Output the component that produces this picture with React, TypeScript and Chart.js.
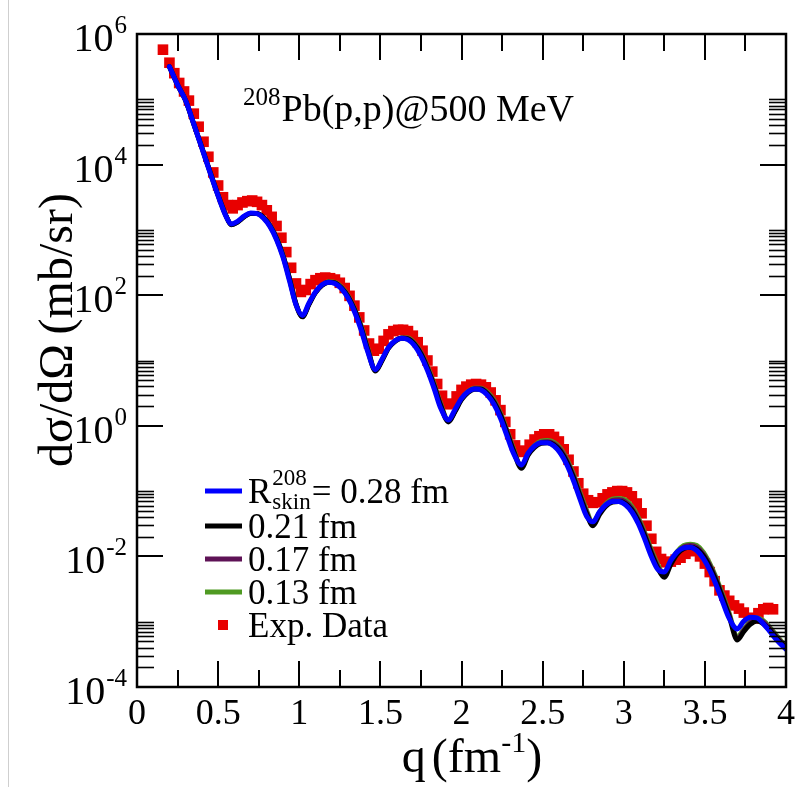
import React, { useEffect, useRef } from "react";
import { Chart, registerables } from "chart.js";

Chart.register(...registerables);

const SERIF = '"Liberation Serif", "Times New Roman", serif';

// ---- axis ticks ----
const xMajorTicks = [0, 0.5, 1, 1.5, 2, 2.5, 3, 3.5, 4];
const xTickLabels = ["0", "0.5", "1", "1.5", "2", "2.5", "3", "3.5", "4"];
const xMinorTicks = [0.25, 0.75, 1.25, 1.75, 2.25, 2.75, 3.25, 3.75];
const yMajorExponents = [-4, -2, 0, 2, 4, 6];
const yMinorDecades = [-4, -2, 0, 2, 4];
const yMinorMantissas = [2, 3, 4, 5, 6, 7, 8, 9, 10];

// ---- theory curves: q (fm^-1) and log10(dσ/dΩ) ----
const qTheory = [
  0.20, 0.25, 0.30, 0.35, 0.40, 0.45, 0.50, 0.55, 0.58, 0.62,
  0.66, 0.70, 0.74, 0.78, 0.82, 0.86, 0.90, 0.94, 0.98, 1.02,
  1.06, 1.10, 1.14, 1.18, 1.22, 1.26, 1.30, 1.34, 1.38, 1.42,
  1.47, 1.51, 1.55, 1.59, 1.63, 1.67, 1.71, 1.75, 1.79, 1.83,
  1.87, 1.92, 1.96, 2.00, 2.04, 2.08, 2.12, 2.16, 2.20, 2.24,
  2.28, 2.32, 2.37, 2.41, 2.45, 2.49, 2.53, 2.57, 2.61, 2.65,
  2.69, 2.73, 2.77, 2.81, 2.85, 2.89, 2.93, 2.97, 3.01, 3.05,
  3.09, 3.13, 3.17, 3.21, 3.25, 3.29, 3.33, 3.37, 3.41, 3.45,
  3.49, 3.53, 3.57, 3.61, 3.65, 3.70, 3.74, 3.78, 3.82, 3.86,
  3.90, 3.95, 4.00,
];

const skin028Log = [
  5.50, 5.22, 4.98, 4.62, 4.25, 3.88, 3.52, 3.20, 3.09, 3.13,
  3.21, 3.26, 3.25, 3.18, 3.05, 2.85, 2.58, 2.22, 1.85, 1.69,
  1.88, 2.05, 2.16, 2.20, 2.18, 2.10, 1.96, 1.75, 1.48, 1.15,
  0.86, 1.02, 1.20, 1.30, 1.34, 1.32, 1.23, 1.07, 0.85, 0.58,
  0.28, 0.09, 0.25, 0.42, 0.52, 0.565, 0.55, 0.47, 0.33, 0.12,
  -0.15, -0.42, -0.60, -0.42, -0.31, -0.26, -0.26, -0.31, -0.42, -0.60,
  -0.84, -1.12, -1.38, -1.47, -1.32, -1.21, -1.16, -1.16, -1.21, -1.32,
  -1.50, -1.74, -2.00, -2.20, -2.24, -2.06, -1.93, -1.87, -1.86, -1.91,
  -2.03, -2.21, -2.44, -2.70, -2.95, -3.11, -2.99, -2.93, -2.94, -3.03,
  -3.15, -3.30, -3.42,
];

const skin021Log = [
  5.50, 5.22, 4.98, 4.62, 4.26, 3.89, 3.53, 3.21, 3.08, 3.12,
  3.20, 3.25, 3.25, 3.19, 3.06, 2.87, 2.60, 2.25, 1.86, 1.67,
  1.86, 2.04, 2.15, 2.20, 2.19, 2.11, 1.98, 1.78, 1.51, 1.18,
  0.84, 1.00, 1.19, 1.29, 1.34, 1.33, 1.25, 1.10, 0.88, 0.62,
  0.32, 0.06, 0.22, 0.40, 0.51, 0.56, 0.56, 0.49, 0.36, 0.16,
  -0.10, -0.38, -0.65, -0.45, -0.33, -0.27, -0.26, -0.29, -0.39, -0.56,
  -0.79, -1.07, -1.34, -1.53, -1.36, -1.23, -1.17, -1.16, -1.19, -1.29,
  -1.46, -1.69, -1.95, -2.18, -2.32, -2.12, -1.96, -1.88, -1.86, -1.89,
  -1.99, -2.16, -2.38, -2.64, -2.92, -3.28, -3.15, -3.04, -2.99, -3.03,
  -3.13, -3.27, -3.40,
];

const skin017Log = [
  5.50, 5.22, 4.98, 4.62, 4.26, 3.89, 3.53, 3.21, 3.08, 3.12,
  3.20, 3.25, 3.25, 3.19, 3.07, 2.88, 2.61, 2.26, 1.87, 1.67,
  1.86, 2.04, 2.15, 2.20, 2.19, 2.12, 1.99, 1.79, 1.53, 1.20,
  0.85, 1.00, 1.19, 1.30, 1.35, 1.34, 1.26, 1.12, 0.90, 0.64,
  0.34, 0.07, 0.22, 0.41, 0.52, 0.57, 0.57, 0.50, 0.38, 0.18,
  -0.08, -0.36, -0.63, -0.44, -0.31, -0.25, -0.24, -0.27, -0.36, -0.53,
  -0.76, -1.04, -1.31, -1.51, -1.34, -1.21, -1.14, -1.13, -1.16, -1.26,
  -1.43, -1.66, -1.92, -2.15, -2.30, -2.10, -1.94, -1.85, -1.83, -1.86,
  -1.96, -2.13, -2.35, -2.61, -2.89, -3.25, -3.13, -3.01, -2.96, -3.00,
  -3.10, -3.25, -3.39,
];

const skin013Log = [
  5.50, 5.22, 4.98, 4.62, 4.26, 3.89, 3.53, 3.21, 3.08, 3.12,
  3.20, 3.25, 3.25, 3.19, 3.07, 2.89, 2.62, 2.27, 1.88, 1.67,
  1.86, 2.04, 2.15, 2.21, 2.20, 2.13, 2.00, 1.80, 1.55, 1.22,
  0.86, 1.00, 1.19, 1.30, 1.35, 1.35, 1.27, 1.13, 0.92, 0.66,
  0.36, 0.08, 0.22, 0.41, 0.53, 0.58, 0.58, 0.52, 0.40, 0.20,
  -0.06, -0.34, -0.62, -0.43, -0.30, -0.23, -0.22, -0.25, -0.34, -0.51,
  -0.73, -1.01, -1.28, -1.49, -1.32, -1.19, -1.12, -1.11, -1.13, -1.23,
  -1.40, -1.63, -1.89, -2.12, -2.28, -2.08, -1.92, -1.83, -1.81, -1.83,
  -1.93, -2.10, -2.32, -2.58, -2.86, -3.22, -3.11, -2.99, -2.94, -2.98,
  -3.08, -3.23, -3.38,
];

// ---- experimental data: [q, log10(dσ/dΩ)] ----
const expPoints: [number, number][] = [
  [0.16, 5.76], [0.20, 5.56], [0.23, 5.40], [0.26, 5.25], [0.29, 5.12],
  [0.32, 4.98], [0.35, 4.78], [0.38, 4.58], [0.41, 4.35], [0.44, 4.12],
  [0.47, 3.88], [0.50, 3.68], [0.53, 3.50], [0.56, 3.38], [0.59, 3.33],
  [0.62, 3.38], [0.65, 3.42], [0.68, 3.44], [0.71, 3.45], [0.74, 3.43],
  [0.77, 3.38], [0.80, 3.30], [0.83, 3.20], [0.86, 3.06], [0.89, 2.88],
  [0.92, 2.66], [0.95, 2.42], [0.98, 2.18], [1.01, 2.05], [1.04, 2.08],
  [1.07, 2.17], [1.10, 2.23], [1.13, 2.26], [1.16, 2.27], [1.19, 2.26],
  [1.22, 2.24], [1.25, 2.19], [1.28, 2.11], [1.31, 1.99], [1.34, 1.84],
  [1.37, 1.66], [1.40, 1.46], [1.43, 1.26], [1.46, 1.15], [1.49, 1.18],
  [1.52, 1.30], [1.55, 1.40], [1.58, 1.45], [1.61, 1.47], [1.64, 1.47],
  [1.67, 1.45], [1.70, 1.38], [1.73, 1.28], [1.76, 1.15], [1.79, 1.00],
  [1.82, 0.83], [1.85, 0.64], [1.88, 0.46], [1.91, 0.33], [1.94, 0.34],
  [1.97, 0.45], [2.00, 0.55], [2.03, 0.60], [2.06, 0.63], [2.09, 0.64],
  [2.12, 0.63], [2.15, 0.59], [2.18, 0.51], [2.21, 0.39], [2.24, 0.24],
  [2.27, 0.06], [2.30, -0.13], [2.33, -0.30], [2.36, -0.40], [2.39, -0.38],
  [2.42, -0.29], [2.45, -0.21], [2.48, -0.16], [2.51, -0.13], [2.54, -0.13],
  [2.57, -0.17], [2.60, -0.24], [2.63, -0.36], [2.66, -0.52], [2.69, -0.70],
  [2.72, -0.88], [2.75, -1.04], [2.78, -1.14], [2.81, -1.18], [2.84, -1.17],
  [2.87, -1.11], [2.90, -1.05], [2.93, -1.02], [2.96, -1.00], [2.99, -1.00],
  [3.02, -1.02], [3.05, -1.08], [3.08, -1.19], [3.11, -1.34], [3.14, -1.53],
  [3.17, -1.73], [3.20, -1.93], [3.23, -2.04], [3.26, -2.09], [3.29, -2.08],
  [3.32, -2.05], [3.35, -2.02], [3.38, -1.96], [3.41, -1.91], [3.44, -1.92],
  [3.47, -2.00], [3.50, -2.11], [3.53, -2.24], [3.56, -2.38], [3.59, -2.52],
  [3.62, -2.60], [3.65, -2.68], [3.68, -2.75], [3.71, -2.80], [3.74, -2.86],
  [3.77, -2.94], [3.80, -2.95], [3.83, -2.87], [3.86, -2.81], [3.89, -2.79],
  [3.92, -2.81],
];

// ---- legend ----
const legendValues = ["0.28 fm", "0.21 fm", "0.17 fm", "0.13 fm", "Exp. Data"];
const seriesColors = ["#0000ff", "#000000", "#5e1256", "#4f9a22", "#e80000"];

const W = 795;
const H = 787;

const decorPlugin = {
  id: "decor",
  afterDraw(chart: any) {
    const ctx: CanvasRenderingContext2D = chart.ctx;
    const a = chart.chartArea;
    const xs = chart.scales.x;
    const ys = chart.scales.y;
    ctx.save();

    // faint page border line at the left
    ctx.fillStyle = "#cfcfcf";
    ctx.fillRect(8, 0, 1, H);

    ctx.strokeStyle = "#000";
    ctx.fillStyle = "#000";
    ctx.lineWidth = 2;
    ctx.lineCap = "butt";

    const MAJ = 26;
    const MIN = 17;
    const line = (x1: number, y1: number, x2: number, y2: number) => {
      ctx.beginPath();
      ctx.moveTo(x1, y1);
      ctx.lineTo(x2, y2);
      ctx.stroke();
    };

    // x ticks (bottom & top, inward)
    xMajorTicks.forEach((v) => {
      const px = Math.round(xs.getPixelForValue(v));
      line(px, a.bottom, px, a.bottom - MAJ);
      line(px, a.top, px, a.top + MAJ);
    });
    xMinorTicks.forEach((v) => {
      const px = Math.round(xs.getPixelForValue(v));
      line(px, a.bottom, px, a.bottom - MIN);
      line(px, a.top, px, a.top + MIN);
    });

    // y ticks (left & right, inward)
    yMajorExponents.forEach((e) => {
      const py = Math.round(ys.getPixelForValue(Math.pow(10, e)));
      line(a.left, py, a.left + MAJ, py);
      line(a.right, py, a.right - MAJ, py);
    });
    ctx.lineWidth = 1.6;
    yMinorDecades.forEach((d) => {
      yMinorMantissas.forEach((m) => {
        const py = Math.round(ys.getPixelForValue(m * Math.pow(10, d))) + 0.5;
        line(a.left, py, a.left + MIN, py);
        line(a.right, py, a.right - MIN, py);
      });
    });

    // frame
    ctx.lineWidth = 2.5;
    ctx.strokeRect(a.left, a.top, a.right - a.left, a.bottom - a.top);

    // x tick labels
    ctx.font = `36px ${SERIF}`;
    ctx.textAlign = "center";
    ctx.textBaseline = "alphabetic";
    xMajorTicks.forEach((v, i) => {
      ctx.fillText(xTickLabels[i], xs.getPixelForValue(v), a.bottom + 37);
    });

    // y tick labels 10^n
    ctx.textAlign = "left";
    yMajorExponents.forEach((e) => {
      const py = ys.getPixelForValue(Math.pow(10, e));
      const sup = String(e);
      ctx.font = `25px ${SERIF}`;
      const wSup = ctx.measureText(sup).width;
      ctx.font = `40px ${SERIF}`;
      const w10 = ctx.measureText("10").width;
      const right = a.left - 10;
      const x0 = right - wSup - w10 - 1;
      ctx.fillText("10", x0, py + 17);
      ctx.font = `25px ${SERIF}`;
      ctx.fillText(sup, x0 + w10 + 1, py - 1);
    });

    // x axis title: q(fm^-1)
    {
      const big = `48px ${SERIF}`;
      const small = `30px ${SERIF}`;
      ctx.font = big;
      const wq = ctx.measureText("q").width;
      const wopen = ctx.measureText("(fm").width;
      const wclose = ctx.measureText(")").width;
      ctx.font = small;
      const wsup = ctx.measureText("-1").width;
      const gap = 6;
      const total = wq + gap + wopen + wsup + wclose;
      let x = 472 - total / 2;
      const base = 772;
      ctx.font = big;
      ctx.fillText("q", x, base);
      x += wq + gap;
      ctx.fillText("(fm", x, base);
      x += wopen;
      ctx.font = small;
      ctx.fillText("-1", x, base - 20);
      x += wsup;
      ctx.font = big;
      ctx.fillText(")", x, base);
    }

    // y axis title
    {
      ctx.save();
      ctx.translate(72, 330);
      ctx.rotate(-Math.PI / 2);
      ctx.font = `48px ${SERIF}`;
      ctx.textAlign = "center";
      ctx.fillText("dσ/dΩ\u2009(mb/sr)", 0, 0);
      ctx.restore();
    }

    // reaction annotation: 208Pb(p,p)@500 MeV
    {
      ctx.textAlign = "left";
      const x0 = 243;
      const base = 121;
      ctx.font = `25px ${SERIF}`;
      ctx.fillText("208", x0, base - 16);
      const w = ctx.measureText("208").width;
      ctx.font = `38px ${SERIF}`;
      ctx.fillText("Pb(p,p)@500 MeV", x0 + w + 1, base);
    }

    // legend
    {
      const rows = [491, 526, 559, 592, 625];
      const lx1 = 205;
      const lx2 = 242;
      const tx = 248;
      const font = `35px ${SERIF}`;
      const sfont = `23px ${SERIF}`;
      rows.forEach((ry, i) => {
        ctx.fillStyle = seriesColors[i];
        if (i < 4) {
          ctx.fillRect(lx1, ry - 2.5, lx2 - lx1, 5);
        } else {
          ctx.fillRect(223 - 5, ry - 5, 10, 10);
        }
        ctx.fillStyle = "#000";
        const base = ry + 12;
        if (i === 0) {
          ctx.font = font;
          ctx.fillText("R", tx, base);
          const wR = ctx.measureText("R").width;
          ctx.font = sfont;
          ctx.fillText("208", tx + wR + 1, base - 18);
          ctx.fillText("skin", tx + wR + 1, base + 6);
          const ws = Math.max(ctx.measureText("208").width, ctx.measureText("skin").width);
          ctx.font = font;
          ctx.fillText("= " + legendValues[0], tx + wR + ws + 2, base);
        } else {
          ctx.font = font;
          ctx.fillText(legendValues[i], tx, base);
        }
      });
    }

    ctx.restore();
  },
};

function toPoints(vals: number[]) {
  return qTheory.map((q, i) => ({ x: q, y: Math.pow(10, vals[i]) }));
}

export default function App() {
  const ref = useRef<HTMLCanvasElement | null>(null);

  useEffect(() => {
    if (!ref.current) return;
    const lineDs = (label: string, vals: number[], color: string, width: number) => ({
      type: "line" as const,
      label,
      data: toPoints(vals),
      borderColor: color,
      backgroundColor: color,
      borderWidth: width,
      pointRadius: 0,
      fill: false,
      cubicInterpolationMode: "monotone" as const,
      borderJoinStyle: "round" as const,
      borderCapStyle: "round" as const,
    });
    const chart = new Chart(ref.current, {
      type: "line",
      data: {
        datasets: [
          lineDs("0.28 fm", skin028Log, seriesColors[0], 5),
          lineDs("0.21 fm", skin021Log, seriesColors[1], 5),
          lineDs("0.17 fm", skin017Log, seriesColors[2], 4.5),
          lineDs("0.13 fm", skin013Log, seriesColors[3], 4.5),
          {
            type: "scatter" as const,
            label: "Exp. Data",
            data: expPoints.map(([q, lv]) => ({ x: q, y: Math.pow(10, lv) })),
            showLine: false,
            pointStyle: "rect",
            pointRadius: 7.5,
            pointBorderWidth: 0,
            borderWidth: 0,
            backgroundColor: seriesColors[4],
            borderColor: seriesColors[4],
          } as any,
        ],
      },
      options: {
        responsive: false,
        animation: false,
        devicePixelRatio: 1,
        layout: { padding: { left: 137, top: 34, right: 9, bottom: 100 } },
        scales: {
          x: { type: "linear", min: 0, max: 4, display: false },
          y: { type: "logarithmic", min: 1e-4, max: 1e6, display: false },
        },
        plugins: {
          legend: { display: false },
          tooltip: { enabled: false },
        },
        events: [],
      },
      plugins: [decorPlugin],
    });
    return () => chart.destroy();
  }, []);

  return (
    <div style={{ position: "absolute", left: 0, top: 0, width: W, height: H, background: "#fff" }}>
      <canvas ref={ref} width={W} height={H} style={{ width: W, height: H, display: "block" }} />
    </div>
  );
}
